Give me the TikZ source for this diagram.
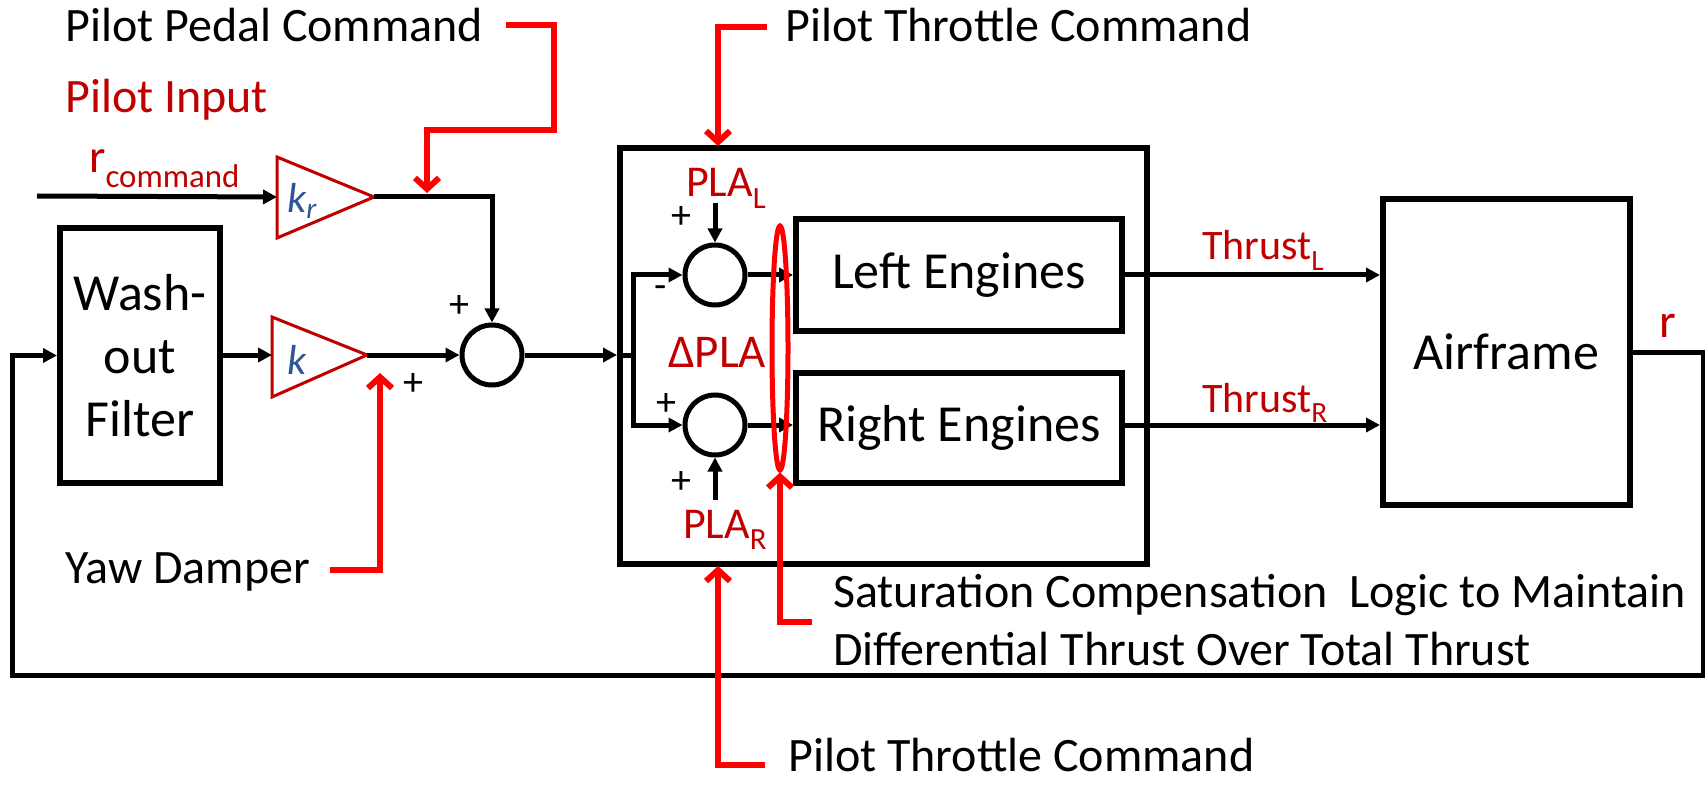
\documentclass[tikz,border=0pt]{standalone}
\usepackage{fontspec}
\setmainfont{Carlito}
\usetikzlibrary{arrows.meta,shapes.geometric,calc}
\definecolor{lblred}{RGB}{192,0,0}
\definecolor{annred}{RGB}{255,0,0}
\definecolor{kblue}{RGB}{47,85,151}
\begin{document}
\begin{tikzpicture}[x=1pt,y=-1pt,
  line/.style={line width=5pt},
  conn/.style={line width=5pt,-{Triangle[length=14pt,width=14pt]}},
  redarr/.style={draw=annred,line width=6pt,-{Straight Barb[length=11pt,width=24pt]}},
  blkbox/.style={draw,line width=6pt,inner sep=0pt,align=center,font=\fontsize{52}{63}\selectfont},
  sumc/.style={draw,circle,line width=5pt,minimum size=60pt,inner sep=0pt},
  lbl/.style={font=\fontsize{48}{56}\selectfont,inner sep=0pt},
  rlbl/.style={lbl,text=lblred},
  ilbl/.style={font=\fontsize{44}{50}\selectfont,inner sep=0pt,text=lblred},
  sgn/.style={font=\fontsize{40}{40}\selectfont,inner sep=0pt},
  tri/.style={draw=lblred,line width=3pt,line join=miter},
  klbl/.style={font=\fontsize{42}{44}\selectfont\itshape,text=kblue,inner sep=0pt}
]
\useasboundingbox (0,0) rectangle (1705,786);

% ---- blocks ----
\node[blkbox,minimum width=160pt,minimum height=255pt] (wash) at (140,355.5) {Wash-\\out\\Filter};
\node[blkbox,minimum width=527pt,minimum height=416pt] (big) at (883.5,356) {};
\node[blkbox,minimum width=326pt,minimum height=111pt] (le) at (959,275) {Left Engines};
\node[blkbox,minimum width=326pt,minimum height=110pt] (re) at (959,428) {Right Engines};
\node[blkbox,minimum width=247pt,minimum height=306pt] (air) at (1506.5,352) {Airframe};

\node[sumc] (s0) at (492,355) {};
\node[sumc] (sL) at (715,275) {};
\node[sumc] (sR) at (715,425) {};

% ---- gains ----
\draw[tri] (277,157) -- (374,197) -- (277,238) -- cycle;
\coordinate (krin) at (277,197);
\coordinate (krout) at (374,197);
\node[klbl,anchor=base west] (krl) at (287,213) {k\textsubscript{r}};
\draw[tri] (272,317) -- (367,355) -- (272,397) -- cycle;
\coordinate (kin) at (272,355);
\coordinate (kout) at (367,355);
\node[klbl,anchor=base west] (kl) at (287,374) {k};

% ---- black connectors ----
\coordinate (rin) at (37,196);
\draw[conn] (rin) -- (krin);
\draw[conn] (krout) -| (s0);
\draw[conn] (wash.east |- kin) -- (kin);
\draw[conn] (kout) -- (s0);
\draw[conn] (s0) -- (s0 -| big.west);
\coordinate (br) at (633,355);
\draw[line] (s0 -| big.west) -- (br);
\draw[conn] (br) |- (sL);
\draw[conn] (br) |- (sR);
\coordinate (plala) at (715,203);
\coordinate (plara) at (715,500);
\draw[conn] (plala) -- (sL);
\draw[conn] (plara) -- (sR);
\draw[conn] (sL) -- (sL -| le.west);
\draw[conn] (sR) -- (sR -| re.west);
\draw[conn] (le.east) -- (le.east -| air.west);
\draw[conn] (re.east |- sR) -- (sR -| air.west);
\coordinate (fbr) at (1703,675);
\coordinate (fbl) at (12,675);
\draw[conn] (air.east) -| (fbr) -- (fbl) |- (wash.west);

% ---- labels ----
\node[lbl,anchor=base west] (ppc) at (65,42) {Pilot Pedal Command};
\node[rlbl,anchor=base west] (pin) at (65,113) {Pilot Input};
\node[ilbl,font=\fontsize{47}{50}\selectfont,anchor=base west] (rc) at (89,173) {r\textsubscript{command}};
\node[lbl,anchor=base west] (yd) at (65,583) {Yaw Damper};
\node[lbl,anchor=base west] (ptc1) at (785,42) {Pilot Throttle Command};
\node[lbl,anchor=base west] (ptc2) at (788,771) {Pilot Throttle Command};
\node[lbl,anchor=base west,align=left] (satx) at (833,607) {Saturation Compensation\ \ Logic to Maintain};
\node[lbl,anchor=base west,align=left] (saty) at (833,665) {Differential Thrust Over Total Thrust};
\node[ilbl,anchor=base west] (plal) at (686,197) {PLA\textsubscript{L}};
\node[ilbl,font=\fontsize{47}{50}\selectfont,anchor=base west] (dpla) at (668,367) {ΔPLA};
\node[ilbl,anchor=base west] (plar) at (683,538) {PLA\textsubscript{R}};
\node[ilbl,font=\fontsize{42}{50}\selectfont,anchor=base west] (thl) at (1202,260) {Thrust\textsubscript{L}};
\node[ilbl,font=\fontsize{42}{50}\selectfont,anchor=base west] (thr) at (1202,412) {Thrust\textsubscript{R}};
\node[rlbl,anchor=base west] (rout) at (1659,337) {r};

\node[sgn] (p1) at (459,307) {+};
\node[sgn] (p2) at (413,385) {+};
\node[sgn] (p3) at (681,218) {+};
\node[sgn] (m1) at (661,292) {-};
\node[sgn] (p4) at (666,405) {+};
\node[sgn] (p5) at (681,483) {+};

% ---- red annotations ----
\node[draw=annred,line width=5pt,ellipse,minimum width=16pt,minimum height=244pt,inner sep=0pt] (sat) at (780,348) {};
\coordinate (pp) at (506,25);
\coordinate (ppt) at (427,193);
\draw[redarr] (pp) -| ++(48,105) -| (ppt);
\coordinate (yd0) at (330,570);
\coordinate (ydt) at (380,373);
\draw[redarr] (yd0) -| (ydt);
\coordinate (t0) at (767,27);
\coordinate (tt) at (718,146);
\draw[redarr] (t0) -| (tt);
\coordinate (b0) at (765,765);
\coordinate (bt) at (718,566);
\draw[redarr] (b0) -| (bt);
\coordinate (sp) at (812,622);
\draw[redarr] (sp) -| (sat.south);
\end{tikzpicture}
\end{document}
